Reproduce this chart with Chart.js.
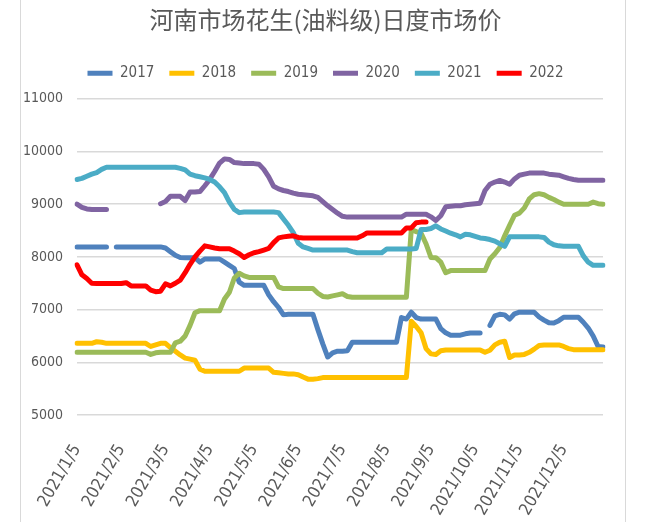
<!DOCTYPE html>
<html>
<head>
<meta charset="utf-8">
<title>河南市场花生(油料级)日度市场价</title>
<script src="https://cdn.jsdelivr.net/npm/chart.js@4.4.1/dist/chart.umd.min.js"></script>
<style>
  html, body { margin: 0; padding: 0; background: #ffffff; }
  #wrap { width: 651px; height: 522px; position: relative; }
</style>
</head>
<body>
<div id="wrap"><canvas id="myChart"></canvas></div>
<script>
// x categories (one point every few days), tick labels shown on the axis
const categories = [
  "2021/1/5", "2021/1/8", "2021/1/12", "2021/1/15", "2021/1/18", "2021/1/22", "2021/1/25", "2021/1/28", "2021/2/1",
  "2021/2/5", "2021/2/8", "2021/2/12", "2021/2/15", "2021/2/18", "2021/2/22", "2021/2/25", "2021/2/28", "2021/3/1",
  "2021/3/5", "2021/3/8", "2021/3/12", "2021/3/15", "2021/3/18", "2021/3/22", "2021/3/25", "2021/3/28", "2021/4/1",
  "2021/4/5", "2021/4/8", "2021/4/12", "2021/4/15", "2021/4/18", "2021/4/22", "2021/4/25", "2021/4/28", "2021/5/1",
  "2021/5/5", "2021/5/8", "2021/5/12", "2021/5/15", "2021/5/18", "2021/5/22", "2021/5/25", "2021/5/28", "2021/6/1",
  "2021/6/5", "2021/6/8", "2021/6/12", "2021/6/15", "2021/6/18", "2021/6/22", "2021/6/25", "2021/6/28", "2021/7/1",
  "2021/7/5", "2021/7/8", "2021/7/12", "2021/7/15", "2021/7/18", "2021/7/22", "2021/7/25", "2021/7/28", "2021/8/1",
  "2021/8/5", "2021/8/8", "2021/8/12", "2021/8/15", "2021/8/18", "2021/8/22", "2021/8/25", "2021/8/28", "2021/9/1",
  "2021/9/5", "2021/9/8", "2021/9/12", "2021/9/15", "2021/9/18", "2021/9/22", "2021/9/25", "2021/9/28", "2021/10/1",
  "2021/10/5", "2021/10/8", "2021/10/12", "2021/10/15", "2021/10/18", "2021/10/22", "2021/10/25", "2021/10/28", "2021/11/1",
  "2021/11/5", "2021/11/8", "2021/11/12", "2021/11/15", "2021/11/18", "2021/11/22", "2021/11/25", "2021/11/28", "2021/12/1",
  "2021/12/5", "2021/12/8", "2021/12/12", "2021/12/15", "2021/12/18", "2021/12/22", "2021/12/25", "2021/12/28", "2021/12/31"
];

const tickLabels = [
  "2021/1/5", "2021/2/5", "2021/3/5", "2021/4/5", "2021/5/5", "2021/6/5",
  "2021/7/5", "2021/8/5", "2021/9/5", "2021/10/5", "2021/11/5", "2021/12/5"
];

const seriesNames = ["2017", "2018", "2019", "2020", "2021", "2022"];
const seriesColors = ["#4F81BD", "#FFC000", "#9BBB59", "#8064A2", "#4BACC6", "#FF0000"];

const s2017 = [
  8190, 8190, 8190, 8190, 8190, 8190, 8190, null, 8190,
  8190, 8190, 8190, 8190, 8190, 8190, 8190, 8190, 8190,
  8170, 8100, 8030, 7990, 7985, 7985, 7985, 7900, 7960,
  7960, 7960, 7960, 7900, 7840, 7780, 7520, 7460, 7460,
  7460, 7460, 7460, 7280, 7150, 7040, 6900, 6910, 6910,
  6910, 6910, 6910, 6910, 6620, 6350, 6100, 6180, 6210,
  6210, 6220, 6380, 6380, 6380, 6380, 6380, 6380, 6380,
  6380, 6380, 6380, 6850, 6820, 6950, 6850, 6820, 6820,
  6820, 6820, 6640, 6560, 6515, 6515, 6515, 6540, 6555,
  6555, 6555, null, 6700, 6880, 6910, 6900, 6820, 6920,
  6950, 6950, 6950, 6950, 6860, 6800, 6750, 6745, 6790,
  6855, 6855, 6855, 6855, 6760, 6650, 6500, 6300, 6290
];

const s2018 = [
  6360, 6360, 6360, 6360, 6390, 6380, 6360, 6360, 6360,
  6360, 6360, 6360, 6360, 6360, 6360, 6300, 6330, 6360,
  6360, 6280, 6210, 6140, 6080, 6060, 6040, 5870, 5830,
  5830, 5830, 5830, 5830, 5830, 5830, 5830, 5890, 5890,
  5890, 5890, 5890, 5890, 5810, 5800, 5790, 5780, 5780,
  5765, 5720, 5680, 5680, 5690, 5710, 5710, 5710, 5710,
  5710, 5710, 5710, 5710, 5710, 5710, 5710, 5710, 5710,
  5710, 5710, 5710, 5710, 5710, 6780, 6680, 6560, 6260,
  6160, 6150, 6220, 6235, 6235, 6235, 6235, 6235, 6235,
  6235, 6235, 6190, 6230, 6330, 6380, 6400, 6090, 6140,
  6140, 6150, 6190, 6250, 6320, 6330, 6330, 6330, 6330,
  6300, 6260, 6240, 6240, 6240, 6240, 6240, 6240, 6240
];

const s2019 = [
  6190, 6190, 6190, 6190, 6190, 6190, 6190, 6190, 6190,
  6190, 6190, 6190, 6190, 6190, 6190, 6150, 6180, 6190,
  6190, 6190, 6370, 6400, 6500, 6700, 6940, 6980, 6980,
  6980, 6980, 6980, 7200, 7330, 7600, 7690, 7640, 7610,
  7610, 7610, 7610, 7610, 7610, 7430, 7400, 7400, 7400,
  7400, 7400, 7400, 7400, 7310, 7250, 7240, 7260, 7280,
  7300, 7250, 7235, 7235, 7235, 7235, 7235, 7235, 7235,
  7235, 7235, 7235, 7235, 7235, 8520, 8480, 8450, 8250,
  7990, 7985, 7900, 7700, 7740, 7740, 7740, 7740, 7740,
  7740, 7740, 7740, 7960, 8060, 8180, 8400, 8600, 8790,
  8830, 8930, 9100, 9180, 9200, 9180, 9130, 9090, 9040,
  9000, 9000, 9000, 9000, 9000, 9000, 9040, 9010, 9000
];

const s2020 = [
  9000, 8940, 8910, 8900, 8900, 8900, 8900, null, null,
  null, null, null, null, null, null, null, null, 9010,
  9050, 9150, 9150, 9150, 9070, 9230, 9230, 9240, 9350,
  9470, 9620, 9780, 9860, 9850, 9790, 9780, 9770, 9770,
  9770, 9760, 9660, 9520, 9340, 9290, 9260, 9240, 9210,
  9190, 9180, 9170, 9160, 9130, 9050, 8970, 8900, 8830,
  8770, 8755, 8755, 8755, 8755, 8755, 8755, 8755, 8755,
  8755, 8755, 8755, 8755, 8810, 8810, 8810, 8810, 8810,
  8760, 8690, 8780, 8950, 8960, 8970, 8970, 8990, 9000,
  9010, 9020, 9260, 9380, 9420, 9450, 9420, 9380, 9480,
  9550, 9570, 9590, 9590, 9590, 9590, 9570, 9560, 9550,
  9520, 9490, 9470, 9455, 9455, 9455, 9455, 9455, 9455
];

const s2021 = [
  9470, 9490, 9530, 9570, 9600, 9660, 9700, 9700, 9700,
  9700, 9700, 9700, 9700, 9700, 9700, 9700, 9700, 9700,
  9700, 9700, 9700, 9680, 9650, 9570, 9540, 9520, 9500,
  9470, 9420, 9330, 9220, 9040, 8900, 8840, 8850, 8850,
  8850, 8850, 8850, 8850, 8850, 8840, 8720, 8600, 8460,
  8260, 8190, 8160, 8130, 8130, 8130, 8130, 8130, 8130,
  8130, 8130, 8100, 8080, 8080, 8080, 8080, 8080, 8080,
  8150, 8150, 8150, 8150, 8150, 8150, 8160, 8520, 8520,
  8540, 8590, 8530, 8490, 8450, 8420, 8380, 8430, 8420,
  8390, 8360, 8350, 8330, 8300, 8250, 8200, 8380, 8380,
  8380, 8380, 8380, 8380, 8380, 8370, 8280, 8230, 8210,
  8200, 8200, 8200, 8200, 8020, 7900, 7840, 7840, 7840
];

const s2022 = [
  7850, 7660, 7590, 7500, 7495, 7495, 7495, 7495, 7495,
  7495, 7510, 7450, 7450, 7450, 7450, 7370, 7340, 7350,
  7490, 7450, 7500, 7560, 7700, 7860, 8000, 8110, 8210,
  8190, 8170, 8155, 8155, 8155, 8110, 8060, 7990, 8040,
  8080, 8100, 8130, 8160, 8270, 8360, 8380, 8390, 8400,
  8370, 8360, 8360, 8360, 8360, 8360, 8360, 8360, 8360,
  8360, 8360, 8360, 8360, 8400, 8455, 8455, 8455, 8455,
  8455, 8455, 8455, 8455, 8550, 8550, 8650, 8660, 8660
];

const yMin = 5000;
const yMax = 11000;
const yStep = 1000;

const narrow = "'Liberation Sans Narrow', 'DejaVu Sans Condensed', 'Liberation Sans', sans-serif";
const textGrey = "#595959";

// light frame lines left and right, like the Excel chart area border
const frame = {
  id: "frame",
  beforeDraw(chart) {
    const c = chart.ctx;
    c.save();
    c.fillStyle = "#ffffff";
    c.fillRect(0, 0, chart.width, chart.height);
    c.strokeStyle = "#d9d9d9";
    c.lineWidth = 1;
    c.beginPath();
    c.moveTo(20.5, 0);
    c.lineTo(20.5, chart.height);
    c.moveTo(625.5, 0);
    c.lineTo(625.5, chart.height);
    c.stroke();
    c.restore();
  }
};

const allSeries = [s2017, s2018, s2019, s2020, s2021, s2022];

const ctx = document.getElementById("myChart");

new Chart(ctx, {
  type: "line",
  data: {
    labels: categories,
    datasets: allSeries.map((vals, i) => ({
      label: seriesNames[i],
      data: vals,
      borderColor: seriesColors[i],
      backgroundColor: seriesColors[i],
      borderWidth: 5,
      borderCapStyle: "round",
      borderJoinStyle: "round",
      pointRadius: 0,
      pointHoverRadius: 0,
      tension: 0,
      spanGaps: false,
      order: allSeries.length - i,
    })),
  },
  options: {
    responsive: true,
    maintainAspectRatio: false,
    animation: false,
    layout: {
      padding: { left: 0, right: 0, top: 0, bottom: 0 },
    },
    plugins: {
      title: {
        display: true,
        text: "河南市场花生(油料级)日度市场价",
        color: textGrey,
        font: { family: "'Noto Sans CJK SC', sans-serif", size: 24, weight: "normal" },
        padding: { top: 5, bottom: 17 },
      },
      legend: {
        display: true,
        position: "top",
        labels: {
          color: textGrey,
          font: { family: narrow, size: 15 },
          usePointStyle: true,
          pointStyle: "line",
          pointStyleWidth: 25,
          padding: 15,
          sort: (a, b) => a.datasetIndex - b.datasetIndex,
        },
      },
      tooltip: { enabled: false },
    },
    scales: {
      x: {
        type: "category",
        offset: false,
        grid: { display: false, drawTicks: false },
        border: { display: false },
        ticks: {
          autoSkip: false,
          minRotation: 60,
          maxRotation: 60,
          padding: 26,
          color: textGrey,
          font: { family: narrow, size: 17 },
          callback: function (val) {
            const lab = this.getLabelForValue(val);
            return tickLabels.includes(lab) ? lab : null;
          },
        },
        afterFit(scale) {
          scale.height = 107;
        },
      },
      // empty spacer axis above the plot, keeps the top gridline at its place
      xTop: {
        type: "category",
        axis: "x",
        position: "top",
        display: true,
        grid: { display: false, drawTicks: false },
        border: { display: false },
        ticks: { display: false },
        afterFit(scale) {
          scale.height = 8;
        },
      },
      y: {
        position: "left",
        min: yMin,
        max: yMax,
        grid: { color: "#d9d9d9", lineWidth: 1.5, drawTicks: false },
        border: { display: false },
        ticks: {
          stepSize: yStep,
          padding: 14,
          color: textGrey,
          font: { family: narrow, size: 14 },
          callback: (v) => String(v),
        },
        afterFit(scale) {
          scale.width = 77;
        },
      },
      yRight: {
        position: "right",
        display: true,
        grid: { display: false, drawTicks: false },
        border: { display: false },
        ticks: { display: false },
        afterFit(scale) {
          scale.width = 48;
        },
      },
    },
  },
  plugins: [frame],
});
</script>
</body>
</html>
